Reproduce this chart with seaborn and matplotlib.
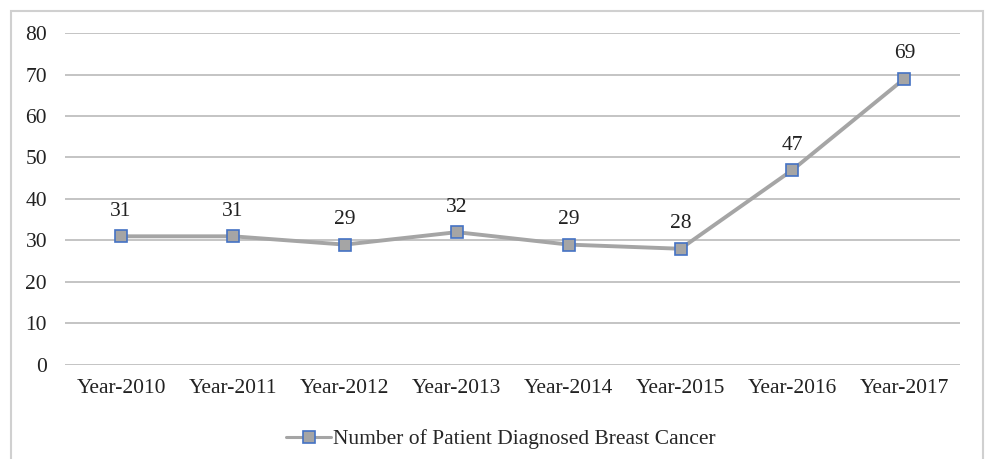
import matplotlib
matplotlib.use("Agg")
import matplotlib.pyplot as plt
import seaborn as sns
import pandas as pd
from matplotlib.patches import Rectangle

# Dados
anos = ["Year-2010", "Year-2011", "Year-2012", "Year-2013",
        "Year-2014", "Year-2015", "Year-2016", "Year-2017"]
pacientes = [31, 31, 29, 32, 29, 28, 47, 69]
serie = "Number of Patient Diagnosed Breast Cancer"

df = pd.DataFrame({"Ano": anos, "Pacientes": pacientes})

sns.set_style("white")
plt.rcParams["font.family"] = ["Liberation Serif", "DejaVu Serif"]

fig = plt.figure(figsize=(9.86, 4.59), dpi=100)
ax = fig.add_axes([0.066, 0.205, 0.908, 0.723])

sns.lineplot(data=df, x="Ano", y="Pacientes", ax=ax, sort=False,
             color="#A5A5A5", linewidth=2.8, marker="s", markersize=9,
             markerfacecolor="#A5A5A5", markeredgecolor="#4472C4",
             markeredgewidth=1.2, label=serie, zorder=3)

# rótulos dos valores
for i, v in enumerate(pacientes):
    ax.annotate(str(v), (i, v), xytext=(0, 11), textcoords="offset points",
                ha="center", va="bottom", fontsize=15.5, color="#222222")

ax.set_xlim(-0.5, len(anos) - 0.5)
ax.set_ylim(0, 80)
ax.set_yticks(range(0, 81, 10))
ax.yaxis.grid(True, color="#BFBFBF", linewidth=1.3)
ax.set_axisbelow(True)
for s in ax.spines.values():
    s.set_visible(False)
ax.set_xlabel("")
ax.set_ylabel("")
ax.tick_params(axis="both", length=0, labelsize=15.5, colors="#222222")
ax.tick_params(axis="y", pad=13)
ax.tick_params(axis="x", pad=10)

leg = ax.legend(loc="upper center", bbox_to_anchor=(0.487, -0.135), frameon=False,
                fontsize=15.5, handlelength=2.1, handletextpad=0.1)
for h in leg.get_lines():
    h.set_linewidth(2.2)

# moldura externa
fig.patches.append(Rectangle((11 / 986, -0.05), 972 / 986, 1 - 11 / 459 + 0.05,
                             transform=fig.transFigure, fill=False,
                             edgecolor="#D0D0D0", linewidth=1.5))

fig.savefig("out.png", dpi=100)
